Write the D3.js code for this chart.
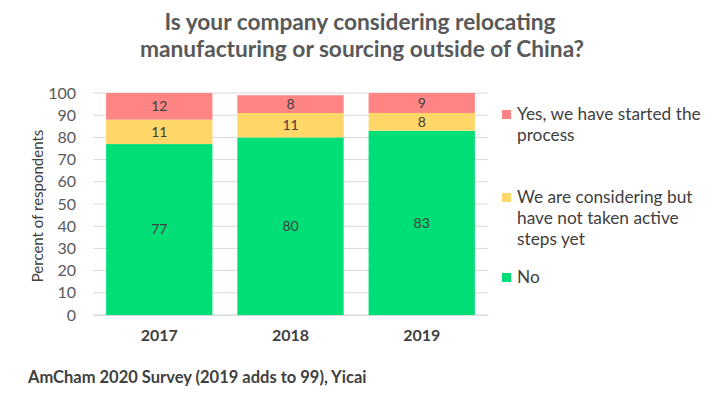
<!DOCTYPE html>
<html>
<head>
<meta charset="utf-8">
<script src="https://cdn.jsdelivr.net/npm/d3@7"></script>
<style>
  body { margin: 0; background: #fff; }
  text { font-family: Lato, "Open Sans", sans-serif; }
</style>
</head>
<body>
<svg id="chart" width="720" height="395"></svg>
<script>
const years = ["2017", "2018", "2019"];
const noVals = [77, 80, 83];
const consideringVals = [11, 11, 8];
const startedVals = [12, 8, 9];
const yTicks = [0, 10, 20, 30, 40, 50, 60, 70, 80, 90, 100];

const colors = ["#00de78", "#ffd668", "#ff8585"];

const svg = d3.select("#chart");
const margin = { top: 93, left: 93, right: 232, bottom: 80 };
const width = 720 - margin.left - margin.right;
const height = 395 - margin.top - margin.bottom;

const rows = years.map((y, i) => ({ year: y, no: noVals[i], considering: consideringVals[i], started: startedVals[i] }));
const keys = ["no", "considering", "started"];
const stacked = d3.stack().keys(keys)(rows);

const x = d3.scaleBand().domain(years).range([0, width]).paddingInner(0.19).paddingOuter(0.1);
const y = d3.scaleLinear().domain([0, 100]).range([height, 0]);

const chart = svg.append("g").attr("transform", `translate(${margin.left},${margin.top})`);

// gridlines
chart.append("g")
  .selectAll("line")
  .data(yTicks)
  .join("line")
  .attr("x1", 0).attr("x2", width)
  .attr("y1", d => y(d)).attr("y2", d => y(d))
  .attr("stroke", "#d9d9d9").attr("stroke-width", 1);

// y axis labels
const yAxis = chart.append("g")
  .call(d3.axisLeft(y).tickValues(yTicks).tickSize(0).tickPadding(17));
yAxis.select(".domain").remove();
yAxis.selectAll("text").attr("font-size", 16).attr("fill", "#595959").style("font-family", "Lato, sans-serif");

// bars
const layer = chart.selectAll("g.layer")
  .data(stacked)
  .join("g")
  .attr("class", "layer")
  .attr("fill", (d, i) => colors[i]);

layer.selectAll("rect")
  .data(d => d)
  .join("rect")
  .attr("x", d => x(d.data.year))
  .attr("y", d => y(d[1]))
  .attr("width", x.bandwidth())
  .attr("height", d => y(d[0]) - y(d[1]));

layer.selectAll("text")
  .data(d => d)
  .join("text")
  .attr("x", d => x(d.data.year) + x.bandwidth() / 2)
  .attr("y", d => (y(d[0]) + y(d[1])) / 2)
  .attr("dy", "0.35em")
  .attr("text-anchor", "middle")
  .attr("font-size", 14)
  .attr("fill", "#404040")
  .text(d => d[1] - d[0]);

// x axis
const xAxis = chart.append("g")
  .attr("transform", `translate(0,${height})`)
  .call(d3.axisBottom(x).tickSize(0).tickPadding(15));
xAxis.select(".domain").attr("stroke", "#d9d9d9");
xAxis.selectAll("text").attr("font-size", 16).attr("font-weight", "bold").attr("fill", "#404040").style("font-family", "Lato, sans-serif");

// y axis title
svg.append("text")
  .attr("transform", "translate(38,206) rotate(-90)")
  .attr("dy", "0.35em")
  .attr("text-anchor", "middle")
  .attr("font-size", 15)
  .attr("fill", "#404040")
  .text("Percent of respondents");

// title
const title = svg.append("text")
  .attr("text-anchor", "middle")
  .attr("font-size", 22.7)
  .attr("font-weight", "bold")
  .attr("fill", "#595959");
title.append("tspan").attr("x", 360).attr("y", 30).text("Is your company considering relocating");
title.append("tspan").attr("x", 362).attr("y", 57).text("manufacturing or sourcing outside of China?");

// legend
const legendItems = [
  { color: colors[2], lines: ["Yes, we have started the", "process"], y: 114 },
  { color: colors[1], lines: ["We are considering but", "have not taken active", "steps yet"], y: 197 },
  { color: colors[0], lines: ["No"], y: 277 }
];
const legend = svg.append("g");
legendItems.forEach(item => {
  legend.append("rect")
    .attr("x", 502).attr("y", item.y - 4).attr("width", 9).attr("height", 9)
    .attr("fill", item.color);
  const t = legend.append("text")
    .attr("font-size", 17.3)
    .attr("fill", "#404040");
  item.lines.forEach((l, i) => {
    t.append("tspan").attr("x", 517).attr("y", item.y + 6 + i * 21).text(l);
  });
});

// source
svg.append("text")
  .attr("x", 28).attr("y", 383)
  .attr("font-size", 16.5)
  .attr("font-weight", "bold")
  .attr("fill", "#404040")
  .text("AmCham 2020 Survey (2019 adds to 99), Yicai");
</script>
</body>
</html>
